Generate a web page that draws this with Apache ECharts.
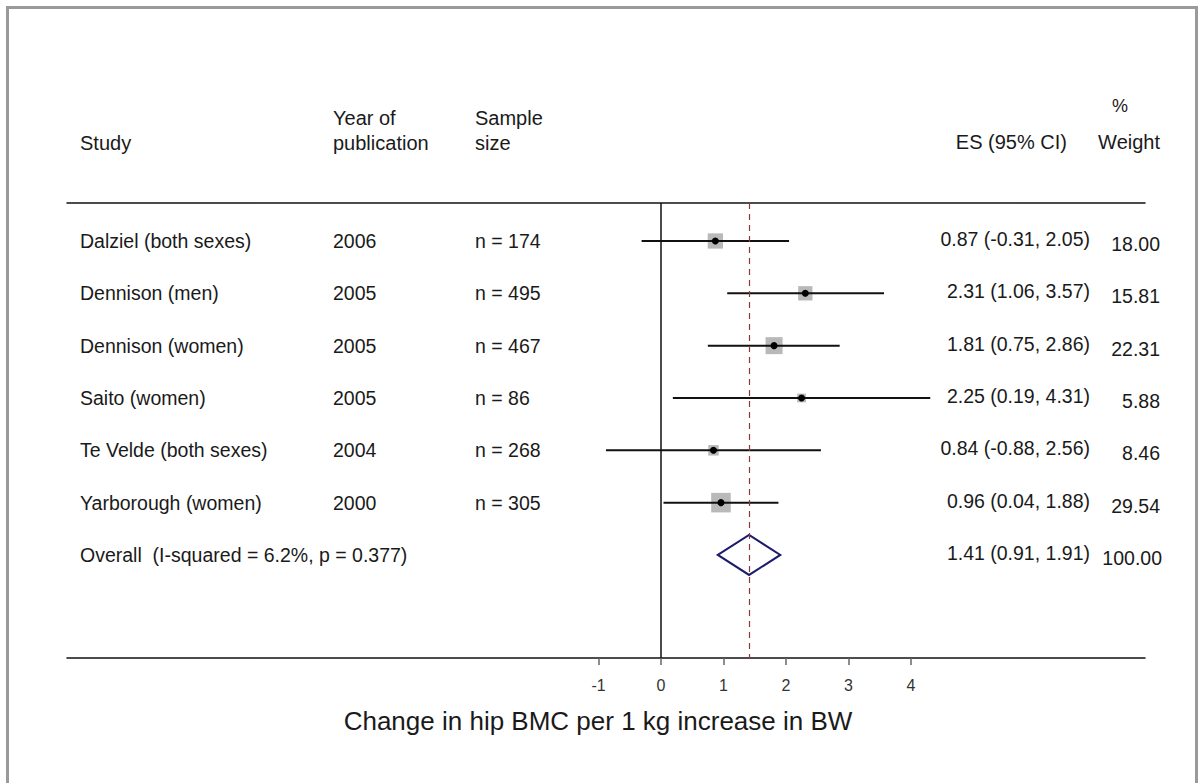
<!DOCTYPE html>
<html>
<head>
<meta charset="utf-8">
<script src="https://cdn.jsdelivr.net/npm/echarts@6/dist/echarts.min.js"></script>
<style>
html,body{margin:0;padding:0;background:#fff;}
#chart{width:1198px;height:783px;}
</style>
</head>
<body>
<div id="chart"></div>
<script>
// ---- data ----
var studies = ['Dalziel (both sexes)', 'Dennison (men)', 'Dennison (women)', 'Saito (women)', 'Te Velde (both sexes)', 'Yarborough (women)'];
var years = [2006, 2005, 2005, 2005, 2004, 2000];
var sampleSizes = [174, 495, 467, 86, 268, 305];
var es = [0.87, 2.31, 1.81, 2.25, 0.84, 0.96];
var ciLow = [-0.31, 1.06, 0.75, 0.19, -0.88, 0.04];
var ciHigh = [2.05, 3.57, 2.86, 4.31, 2.56, 1.88];
var weights = [18.00, 15.81, 22.31, 5.88, 8.46, 29.54];
var overallLabel = 'Overall  (I-squared = 6.2%, p = 0.377)';
var overallES = 1.41, overallLow = 0.91, overallHigh = 1.91, overallWeight = 100.00;
var xTicks = [-1, 0, 1, 2, 3, 4];
var axisTitle = 'Change in hip BMC per 1 kg increase in BW';

// ---- layout ----
var FONT = '"Liberation Sans", Arial, sans-serif';
var TXT = '#1a1a1a';
var ROWF = 19.5, HEADF = 20;
var colStudy = 80, colYear = 333, colN = 475, colES = 1090, colW = 1160;

var chart = echarts.init(document.getElementById('chart'), null, {renderer: 'svg'});

var studyData = es.map(function (v, i) { return [v, ciLow[i], ciHigh[i], weights[i], i]; });
var overallData = [[overallES, overallLow, overallHigh, overallWeight, studies.length]];

function fmt(v) { return v.toFixed(2); }
function esText(e, l, h) { return fmt(e) + ' (' + fmt(l) + ', ' + fmt(h) + ')'; }

function textEl(x, y, s, align, size) {
  return {type: 'text', x: x, y: y, style: {text: s, fill: TXT, font: (size || ROWF) + 'px ' + FONT, align: align || 'left', verticalAlign: 'middle'}};
}

function renderStudy(params, api) {
  var i = api.value(4);
  var c = api.coord([api.value(0), i]);
  var l = api.coord([api.value(1), i]);
  var h = api.coord([api.value(2), i]);
  var side = 3.6 * Math.sqrt(api.value(3));
  var y = c[1];
  return {
    type: 'group',
    children: [
      {type: 'rect', shape: {x: c[0] - side / 2, y: y - side / 2, width: side, height: side}, style: {fill: '#b9b9b9'}},
      {type: 'line', shape: {x1: l[0], y1: y, x2: h[0], y2: y}, style: {stroke: '#111', lineWidth: 2}},
      {type: 'circle', shape: {cx: c[0], cy: y, r: 3.5}, style: {fill: '#000'}},
      textEl(colStudy, y, studies[i]),
      textEl(colYear, y, String(years[i])),
      textEl(colN, y, 'n = ' + sampleSizes[i]),
      textEl(colES, y - 2, esText(api.value(0), api.value(1), api.value(2)), 'right'),
      textEl(colW, y + 3, fmt(api.value(3)), 'right')
    ]
  };
}

function renderOverall(params, api) {
  var i = api.value(4);
  var c = api.coord([api.value(0), i]);
  var l = api.coord([api.value(1), i]);
  var h = api.coord([api.value(2), i]);
  var y = c[1], hh = 20;
  return {
    type: 'group',
    children: [
      {type: 'polygon', shape: {points: [[l[0], y], [c[0], y - hh], [h[0], y], [c[0], y + hh]]}, style: {fill: 'none', stroke: '#1c1c6a', lineWidth: 2}},
      textEl(colStudy, y, overallLabel),
      textEl(colES, y - 2, esText(api.value(0), api.value(1), api.value(2)), 'right'),
      textEl(colW + 2, y + 3, fmt(api.value(3)), 'right')
    ]
  };
}

var xMin = -9.507, xMax = 7.747;

function headText(x, y, s, align, size) {
  return {type: 'text', x: x, y: y, style: {text: s, fill: TXT, font: (size || HEADF) + 'px ' + FONT, align: align || 'left', verticalAlign: 'middle'}};
}

var option = {
  animation: false,
  backgroundColor: '#fff',
  grid: {left: 67, right: 53, top: 203, bottom: 125, containLabel: false},
  xAxis: [
    {
      type: 'value', min: xMin, max: xMax, position: 'bottom',
      splitLine: {show: false},
      axisLine: {show: true, onZero: false, lineStyle: {color: '#111', width: 1.5}},
      axisTick: {show: true, customValues: xTicks, length: 7, inside: false, lineStyle: {color: '#666', width: 1.5}},
      axisLabel: {show: true, customValues: xTicks, color: '#333', fontSize: 16, fontFamily: FONT, margin: 19},
      name: axisTitle, nameLocation: 'middle', nameGap: 50,
      nameTextStyle: {fontSize: 26, color: TXT, fontFamily: FONT, padding: [0, 0, 0, -16]}
    },
    {
      type: 'value', min: xMin, max: xMax, position: 'top',
      splitLine: {show: false},
      axisLine: {show: true, onZero: false, lineStyle: {color: '#111', width: 1.5}},
      axisTick: {show: false}, axisLabel: {show: false}
    }
  ],
  yAxis: {
    type: 'value', min: -0.726, max: 7.969, inverse: true,
    show: false, splitLine: {show: false}
  },
  graphic: [
    {type: 'rect', left: 5, top: 5, shape: {width: 1189, height: 820}, style: {fill: 'none', stroke: '#9a9a9a', lineWidth: 3}, z: 100},
    headText(colStudy, 143, 'Study'),
    headText(colYear, 118, 'Year of'),
    headText(colYear, 143, 'publication'),
    headText(colN, 118, 'Sample'),
    headText(colN, 143, 'size'),
    headText(1067, 142, 'ES (95% CI)', 'right'),
    headText(1120, 106, '%', 'center', 18),
    headText(1160, 142, 'Weight', 'right')
  ],
  series: [
    {
      type: 'line', data: [], xAxisIndex: 0,
      markLine: {
        silent: true, symbol: 'none', label: {show: false},
        data: [
          {xAxis: 0, lineStyle: {color: '#111', width: 1.5, type: 'solid'}},
          {xAxis: overallES, lineStyle: {color: '#8a3a3a', width: 1.2, type: [6, 5]}}
        ]
      }
    },
    {type: 'custom', xAxisIndex: 0, renderItem: renderStudy, data: studyData, clip: false},
    {type: 'custom', xAxisIndex: 0, renderItem: renderOverall, data: overallData, clip: false}
  ]
};
chart.setOption(option);
</script>
</body>
</html>
